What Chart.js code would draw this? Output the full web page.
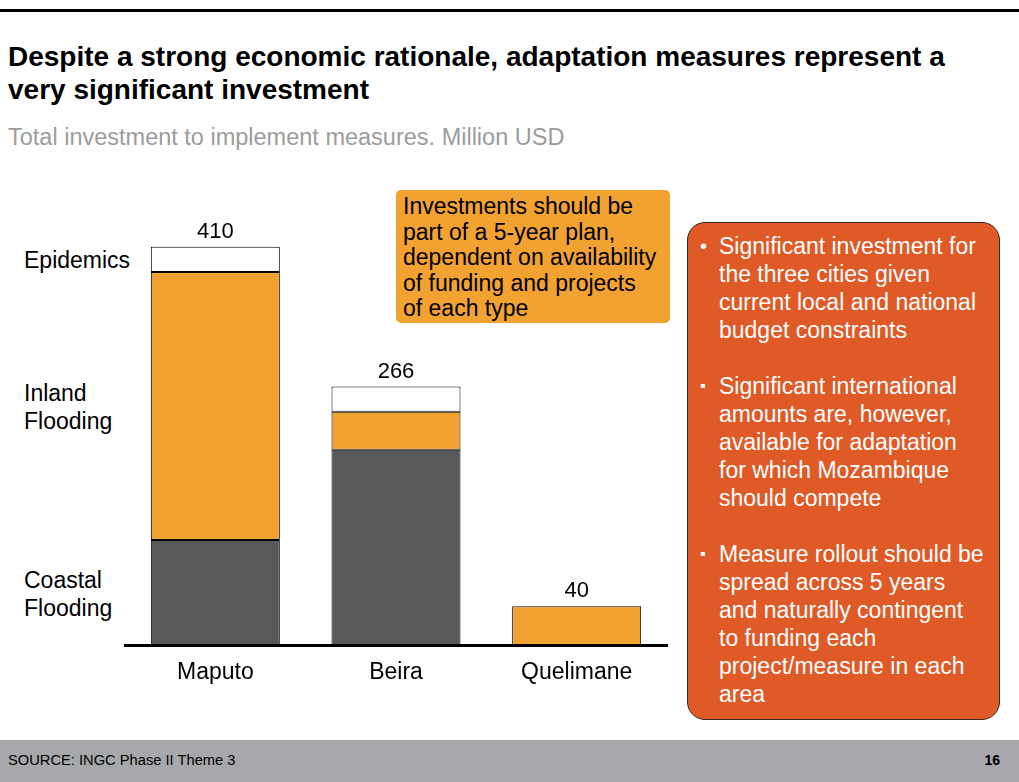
<!DOCTYPE html>
<html>
<head>
<meta charset="utf-8">
<script src="https://cdn.jsdelivr.net/npm/chart.js@4.4.1/dist/chart.umd.min.js"></script>
<style>
  body { margin: 0; width: 1019px; height: 782px; position: relative; overflow: hidden; background: #fff;
         font-family: 'Liberation Sans', Arial, sans-serif; }
  .topline { position: absolute; left: 0; top: 9px; width: 1019px; height: 3px; background: #000; }
  .title { position: absolute; left: 8px; top: 40px; font-size: 28px; font-weight: bold; line-height: 33px; color: #000; white-space: nowrap; }
  .subtitle { position: absolute; left: 8px; top: 124px; font-size: 23.5px; line-height: 26px; color: #9c9c9c; white-space: nowrap; }
  .seg { position: absolute; left: 24px; font-size: 23px; line-height: 28px; color: #000; }
  #chartWrap { position: absolute; left: 0; top: 180px; width: 680px; height: 530px; }
  .callout { position: absolute; left: 396px; top: 190px; width: 274px; height: 133px; background: #f2a230;
             border-radius: 5px; box-sizing: border-box; padding: 4px 0 0 7px; font-size: 23px; line-height: 25.5px;
             color: #000; white-space: nowrap; }
  .side { position: absolute; left: 687px; top: 222px; width: 313px; height: 498px; background: #e05a27;
          border: 1px solid #3a2a20; border-radius: 18px; box-sizing: border-box; color: #fff; font-size: 23px; line-height: 28px; }
  .side ul { list-style: none; margin: 0; padding: 9px 0 0 31px; white-space: nowrap; }
  .side li { position: relative; margin-bottom: 28px; }
  .side li::before { position: absolute; left: -19px; top: 0; }
  .side li.dot::before { content: '\2022'; font-size: 20px; }
  .side li.sq::before { content: '\25AA'; font-size: 16px; }
  .footer { position: absolute; left: 0; top: 740px; width: 1019px; height: 42px; background: #a7a8ab; }
  .footer .src { position: absolute; left: 8px; top: 12px; font-size: 14.7px; color: #000; }
  .footer .pg { position: absolute; right: 19px; top: 12px; font-size: 14px; font-weight: bold; color: #000; }
</style>
</head>
<body>
<div class="topline"></div>
<div class="title">Despite a strong economic rationale, adaptation measures represent a<br>very significant investment</div>
<div class="subtitle">Total investment to implement measures. Million USD</div>

<div class="seg" style="top:246px">Epidemics</div>
<div class="seg" style="top:379px">Inland<br>Flooding</div>
<div class="seg" style="top:566px">Coastal<br>Flooding</div>

<div id="chartWrap"><canvas id="investChart"></canvas></div>

<div class="callout">Investments should be<br>part of a 5-year plan,<br>dependent on availability<br>of funding and projects<br>of each type</div>

<div class="side">
  <ul>
    <li class="dot">Significant investment for<br>the three cities given<br>current local and national<br>budget constraints</li>
    <li class="sq">Significant international<br>amounts are, however,<br>available for adaptation<br>for which Mozambique<br>should compete</li>
    <li class="sq">Measure rollout should be<br>spread across 5 years<br>and naturally contingent<br>to funding each<br>project/measure in each<br>area</li>
  </ul>
</div>

<div class="footer"><span class="src">SOURCE: INGC Phase II Theme 3</span><span class="pg">16</span></div>

<script>
// Million USD per city, stacked bottom to top
const cities = ['Maputo', 'Beira', 'Quelimane'];
const coastalFlooding = [108, 201, null];
const inlandFlooding = [276, 39, 40];
const epidemics = [26, 26, null];
const totals = [410, 266, 40];

const FONT = "'Liberation Sans', Arial, sans-serif";

// total labels above each bar
const totalLabels = {
    id: 'totalLabels',
    afterDatasetsDraw(chart) {
        const { ctx, scales } = chart;
        ctx.save();
        ctx.font = '22px ' + FONT;
        ctx.fillStyle = '#000';
        ctx.textAlign = 'center';
        ctx.textBaseline = 'bottom';
        totals.forEach((t, i) => {
            const x = scales.x.getPixelForValue(i);
            const y = scales.y.getPixelForValue(t);
            ctx.fillText(String(t), x, y - 4);
        });
        ctx.restore();
    }
};

const barStyle = { borderColor: '#000', borderWidth: 1, borderSkipped: false, categoryPercentage: 1, barPercentage: 0.714 };

new Chart(document.getElementById('investChart'), {
    type: 'bar',
    data: {
        labels: cities,
        datasets: [
            { label: 'Coastal Flooding', data: coastalFlooding, backgroundColor: '#59595b', ...barStyle },
            { label: 'Inland Flooding', data: inlandFlooding, backgroundColor: '#f2a230', ...barStyle },
            { label: 'Epidemics', data: epidemics, backgroundColor: '#ffffff', ...barStyle }
        ]
    },
    options: {
        responsive: true,
        maintainAspectRatio: false,
        animation: false,
        layout: { padding: { left: 125, right: 13, top: 20, bottom: 0 } },
        scales: {
            x: {
                stacked: true,
                grid: { display: false, drawTicks: false },
                border: { display: true, color: '#000', width: 3 },
                ticks: { color: '#000', font: { family: FONT, size: 23 }, padding: 14 },
                afterFit: (scale) => { scale.height = 65; }
            },
            y: {
                stacked: true,
                display: false,
                min: 0,
                max: 458
            }
        },
        plugins: {
            legend: { display: false },
            tooltip: { enabled: false }
        }
    },
    plugins: [totalLabels]
});
</script>
</body>
</html>
